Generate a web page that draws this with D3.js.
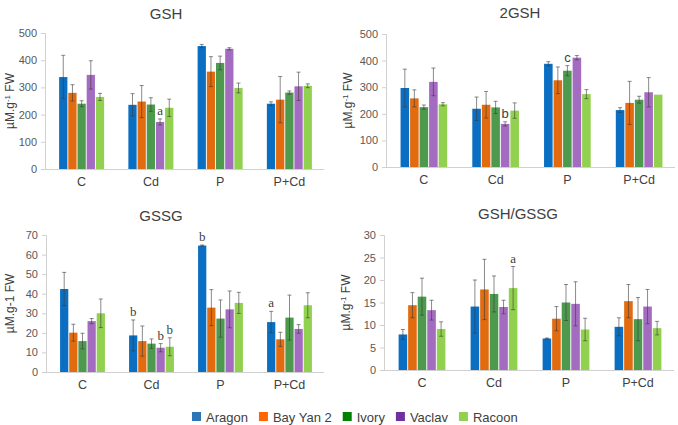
<!DOCTYPE html>
<html>
<head>
<meta charset="utf-8">
<script src="https://cdn.jsdelivr.net/npm/d3@7"></script>
<style>
  body { margin: 0; background: #fff; }
  svg { display: block; font-family: "Liberation Sans", Arial, sans-serif; }
</style>
</head>
<body>
<script>
var width = 678;
var height = 425;

// categories and cultivars
var categories = ["C", "Cd", "P", "P+Cd"];
var cultivars = ["Aragon", "Bay Yan 2", "Ivory", "Vaclav", "Racoon"];

// GSH (rows = treatment, cols = cultivar)
var gshMean = [[338, 280, 240, 346, 265], [236, 248, 237, 173, 225], [452, 358, 390, 442, 298], [240, 255, 281, 304, 306]];
var gshErr = [[80, 30, 11, 52, 13], [41, 59, 25, 11, 32], [6, 55, 25, 4, 18], [7, 85, 6, 52, 7]];
var gshTicks = [0, 100, 200, 300, 400, 500];
var gshLetters = [["Cd", "Vaclav", "a"]];

// 2GSH
var gsh2Mean = [[297, 258, 225, 320, 236], [219, 234, 224, 162, 212], [388, 326, 362, 411, 274], [214, 241, 253, 281, 272]];
var gsh2Err = [[71, 32, 8, 52, 6], [44, 50, 23, 8, 29], [8, 50, 19, 8, 17], [9, 81, 13, 55, 0]];
var gsh2Ticks = [0, 100, 200, 300, 400, 500];
var gsh2Letters = [["Cd", "Vaclav", "b"], ["P", "Ivory", "c"]];

// GSSG
var gssgMean = [[42.4, 20.1, 15.8, 26, 30], [18.7, 15.8, 14.5, 12.4, 12.9], [64.6, 32.9, 27.3, 32, 35.3], [25.5, 16.7, 27.8, 22, 34.1]];
var gssgErr = [[8.5, 4.3, 4, 1.3, 7.3], [7.9, 7.7, 2.4, 2.1, 4.6], [0.3, 9.2, 9.5, 9.4, 5.4], [5.5, 3.6, 11.5, 2.2, 6.4]];
var gssgTicks = [0, 10, 20, 30, 40, 50, 60, 70];
var gssgLetters = [["Cd", "Aragon", "b"], ["Cd", "Vaclav", "b"], ["Cd", "Racoon", "b"], ["P", "Aragon", "b"], ["P+Cd", "Aragon", "a"]];

// GSH/GSSG
var ratioMean = [[7.9, 14.4, 16.3, 13.3, 9.1], [14.1, 17.9, 16.9, 14, 18.2], [7.0, 11.4, 15, 14.7, 9.0], [9.6, 15.3, 11.3, 14.1, 9.3]];
var ratioErr = [[1.1, 2.8, 4.1, 2.2, 1.6], [5.9, 6.7, 4, 1.5, 4.8], [0.1, 2.7, 4, 4.9, 2.5], [2, 3.7, 4.8, 3.8, 1.5]];
var ratioTicks = [0, 5, 10, 15, 20, 25, 30];
var ratioLetters = [["Cd", "Racoon", "a"]];

var barColors = ["#0a6fc2", "#e26b10", "#4d9a4f", "#a46cc0", "#92d050"];
var legendColors = ["#2e75b6", "#ff6600", "#008000", "#7030a0", "#92d050"];

var svg = d3.select("body").append("svg")
  .attr("width", width)
  .attr("height", height);

// panel layouts
var panels = [
  { title: "GSH", mean: gshMean, err: gshErr, ticks: gshTicks, letters: gshLetters, letterFont: "Liberation Serif, serif",
    x0: 47, x1: 324, y0: 169, y1: 33, tx: 166, ty: 19, lx: 14, ylabel: "sup" },
  { title: "2GSH", mean: gsh2Mean, err: gsh2Err, ticks: gsh2Ticks, letters: gsh2Letters, letterFont: "Liberation Sans, sans-serif",
    x0: 388, x1: 675, y0: 167, y1: 34, tx: 520, ty: 18, lx: 352, ylabel: "sup" },
  { title: "GSSG", mean: gssgMean, err: gssgErr, ticks: gssgTicks, letters: gssgLetters, letterFont: "Liberation Serif, serif",
    x0: 48, x1: 324, y0: 372, y1: 235, tx: 161, ty: 221, lx: 14, ylabel: "plain" },
  { title: "GSH/GSSG", mean: ratioMean, err: ratioErr, ticks: ratioTicks, letters: ratioLetters, letterFont: "Liberation Serif, serif",
    x0: 386, x1: 674, y0: 370, y1: 235, tx: 518, ty: 219, lx: 350, ylabel: "sup" }
];

panels.forEach(drawPanel);

function drawPanel(p) {
  var g = svg.append("g");

  var xScale = d3.scaleBand()
    .domain(categories)
    .range([p.x0, p.x1])
    .paddingInner(0.35)
    .paddingOuter(0.175);

  var xInner = d3.scaleBand()
    .domain(cultivars)
    .range([0, xScale.bandwidth()])
    .paddingInner(0.1);

  var yScale = d3.scaleLinear()
    .domain([0, d3.max(p.ticks)])
    .range([p.y0, p.y1]);

  // y axis
  var yAxis = d3.axisLeft(yScale).tickValues(p.ticks).tickSize(4).tickPadding(4);
  var ya = g.append("g")
    .attr("transform", "translate(" + (p.x0 - 2) + ",0)")
    .call(yAxis);
  ya.selectAll("path, line").attr("stroke", "#d0d0d0");
  ya.selectAll("text").attr("fill", "#595959").style("font-size", "11px");

  // x axis
  var xAxis = d3.axisBottom(xScale).tickSize(0).tickPadding(8);
  var xa = g.append("g")
    .attr("transform", "translate(0," + p.y0 + ")")
    .call(xAxis);
  xa.select(".domain").attr("stroke", "#d0d0d0").attr("d", "M" + (p.x0 - 6) + ",0.5H" + p.x1);
  xa.selectAll("text").attr("fill", "#404040").style("font-size", "12.5px");

  // bars
  var rows = [];
  p.mean.forEach(function(row, i) {
    row.forEach(function(v, j) {
      rows.push({ cat: categories[i], cv: cultivars[j], idx: j, v: v, e: p.err[i][j] });
    });
  });

  g.append("g").selectAll("rect")
    .data(rows)
    .enter()
    .append("rect")
    .attr("x", function(d) { return xScale(d.cat) + xInner(d.cv); })
    .attr("y", function(d) { return yScale(d.v); })
    .attr("width", xInner.bandwidth())
    .attr("height", function(d) { return p.y0 - yScale(d.v); })
    .attr("fill", function(d) { return barColors[d.idx]; });

  // error bars
  var eb = g.append("g").selectAll("g")
    .data(rows.filter(function(d) { return d.e > 0; }))
    .enter()
    .append("g")
    .attr("stroke", "#3a3a3a")
    .attr("stroke-opacity", 0.75)
    .attr("stroke-width", 0.8);

  function cx(d) { return xScale(d.cat) + xInner(d.cv) + xInner.bandwidth() / 2; }

  eb.append("line")
    .attr("x1", cx).attr("x2", cx)
    .attr("y1", function(d) { return yScale(d.v + d.e); })
    .attr("y2", function(d) { return yScale(d.v - d.e); });
  [1, -1].forEach(function(sgn) {
    eb.append("line")
      .attr("x1", function(d) { return cx(d) - 2; })
      .attr("x2", function(d) { return cx(d) + 2; })
      .attr("y1", function(d) { return yScale(d.v + sgn * d.e); })
      .attr("y2", function(d) { return yScale(d.v + sgn * d.e); });
  });

  // significance letters
  g.append("g").selectAll("text")
    .data(p.letters)
    .enter()
    .append("text")
    .attr("x", function(l) { return xScale(l[0]) + xInner(l[1]) + xInner.bandwidth() / 2; })
    .attr("y", function(l) {
      var i = categories.indexOf(l[0]), j = cultivars.indexOf(l[1]);
      return yScale(p.mean[i][j] + p.err[i][j]) - 4;
    })
    .attr("text-anchor", "middle")
    .attr("fill", "#404040")
    .style("font-family", p.letterFont)
    .style("font-size", "13px")
    .text(function(l) { return l[2]; });

  // title
  g.append("text")
    .attr("x", p.tx)
    .attr("y", p.ty)
    .attr("text-anchor", "middle")
    .attr("fill", "#404040")
    .style("font-size", "15px")
    .text(p.title);

  // y label
  var yl = g.append("text")
    .attr("transform", "translate(" + p.lx + "," + ((p.y0 + p.y1) / 2) + ") rotate(-90)")
    .attr("text-anchor", "middle")
    .attr("fill", "#404040")
    .style("font-size", "12px");
  if (p.ylabel === "sup") {
    yl.append("tspan").text("µM.g");
    yl.append("tspan").attr("dy", -4).style("font-size", "8px").text("-1");
    yl.append("tspan").attr("dy", 4).text(" FW");
  } else {
    yl.text("µM.g-1 FW");
  }
}

// legend
var legend = svg.append("g").attr("transform", "translate(192,417)");
var lx = 0;
cultivars.forEach(function(name, i) {
  legend.append("rect")
    .attr("x", lx).attr("y", -5)
    .attr("width", 9).attr("height", 9)
    .attr("fill", legendColors[i]);
  var t = legend.append("text")
    .attr("x", lx + 14).attr("y", 4.5)
    .attr("fill", "#404040")
    .style("font-size", "13px")
    .text(name);
  lx += 14 + t.node().getComputedTextLength() + 11;
});
</script>
</body>
</html>
